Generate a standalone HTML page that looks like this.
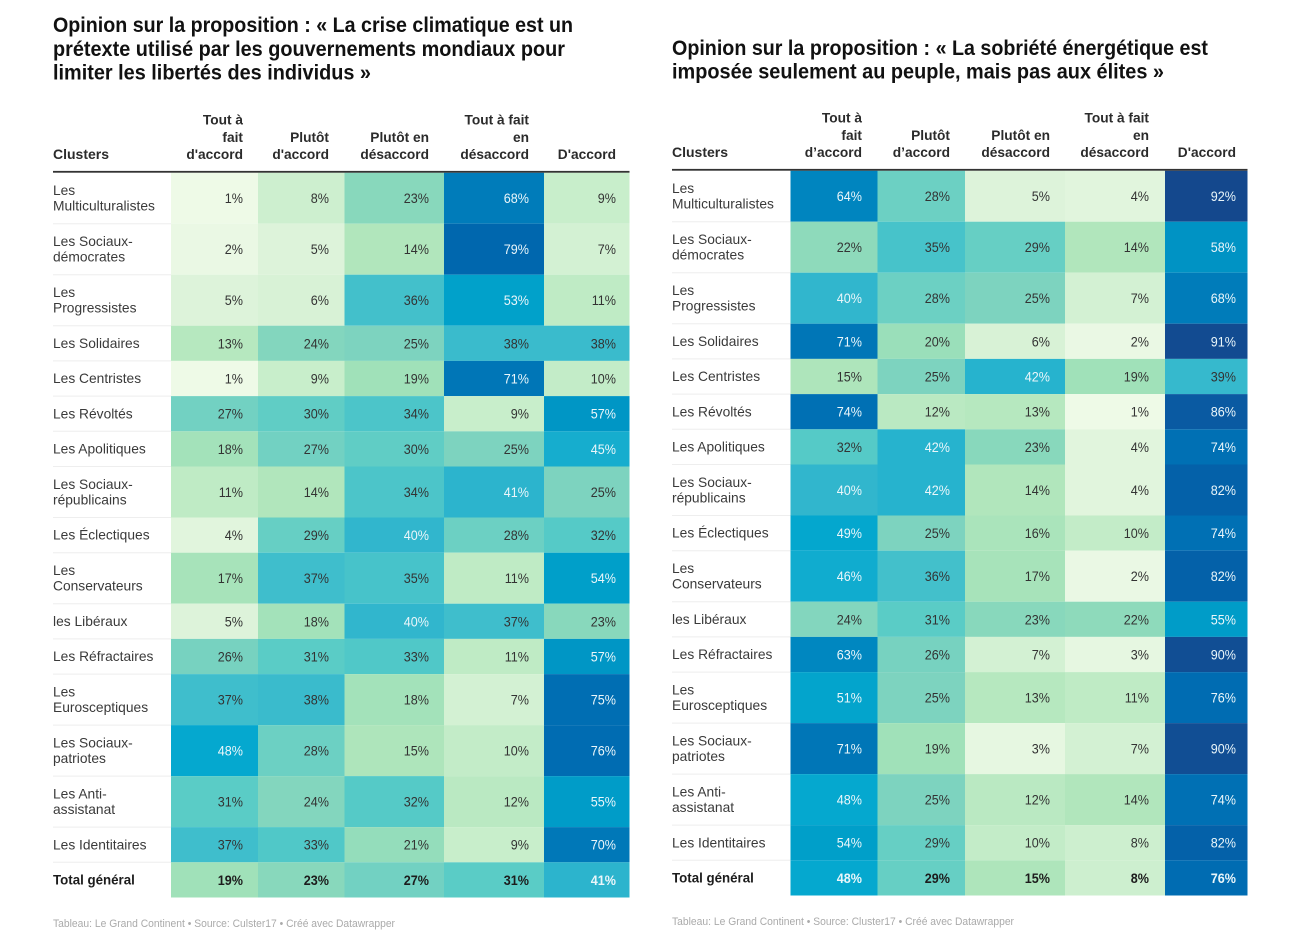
<!DOCTYPE html>
<html lang="fr">
<head>
<meta charset="utf-8">
<title>Opinion sur la proposition</title>
<style>
html,body{margin:0;padding:0;background:#fff;}
body{width:1292px;height:944px;overflow:hidden;}
svg{display:block;font-family:"Liberation Sans",sans-serif;}
</style>
</head>
<body>
<svg id="chart" width="1292" height="944" viewBox="0 0 1292 944" xmlns="http://www.w3.org/2000/svg"></svg>
<script>
// Shared categories and column headings
const categories = ["Les|Multiculturalistes","Les Sociaux-|démocrates","Les|Progressistes","Les Solidaires","Les Centristes","Les Révoltés","Les Apolitiques","Les Sociaux-|républicains","Les Éclectiques","Les|Conservateurs","les Libéraux","Les Réfractaires","Les|Eurosceptiques","Les Sociaux-|patriotes","Les Anti-|assistanat","Les Identitaires","Total général"];
const headersLeft = ["Tout à|fait|d'accord","Plutôt|d'accord","Plutôt en|désaccord","Tout à fait|en|désaccord","D'accord"];
const headersRight = ["Tout à|fait|d’accord","Plutôt|d’accord","Plutôt en|désaccord","Tout à fait|en|désaccord","D'accord"];

// Left table values (one array per column)
const climatToutAFait = [1,2,5,13,1,27,18,11,4,17,5,26,37,48,31,37,19];
const climatPlutot = [8,5,6,24,9,30,27,14,29,37,18,31,38,28,24,33,23];
const climatPlutotEn = [23,14,36,25,19,34,30,34,40,35,40,33,18,15,32,21,27];
const climatDesaccord = [68,79,53,38,71,9,25,41,28,11,37,11,7,10,12,9,31];
const climatDaccord = [9,7,11,38,10,57,45,25,32,54,23,57,75,76,55,70,41];

// Right table values (one array per column)
const sobrieteToutAFait = [64,22,40,71,15,74,32,40,49,46,24,63,51,71,48,54,48];
const sobrietePlutot = [28,35,28,20,25,12,42,42,25,36,31,26,25,19,25,29,29];
const sobrietePlutotEn = [5,29,25,6,42,13,23,14,16,17,23,7,13,3,12,10,15];
const sobrieteDesaccord = [4,14,7,2,19,1,4,4,10,2,22,3,11,7,14,8,8];
const sobrieteDaccord = [92,58,68,91,39,86,74,82,74,82,55,90,76,90,74,82,76];

const colorStops = [[1,"#eefae7"],[5,"#ddf3da"],[9,"#c8eecb"],[14,"#b1e6bc"],[19,"#a0e1b9"],[23,"#88d8bc"],[25,"#7dd3bf"],[28,"#6cd0c3"],[31,"#5accc6"],[33,"#50c8c8"],[36,"#43c0cb"],[40,"#31b6cd"],[48,"#05a8cf"],[54,"#009fc9"],[58,"#0093c4"],[64,"#0085bf"],[68,"#007cba"],[76,"#006cb2"],[79,"#0067ae"],[86,"#0a5aa2"],[92,"#14488d"]];

const NS = "http://www.w3.org/2000/svg";
const svg = document.getElementById("chart");

function hexToRgb(h){return [1,3,5].map(i=>parseInt(h.substr(i,2),16));}
function colorFor(v){
  if(v<=colorStops[0][0])return colorStops[0][1];
  for(let i=1;i<colorStops.length;i++){
    if(v<=colorStops[i][0]){
      const a=colorStops[i-1],b=colorStops[i],t=(v-a[0])/(b[0]-a[0]);
      const ca=hexToRgb(a[1]),cb=hexToRgb(b[1]);
      return "rgb("+ca.map((c,j)=>Math.round(c+(cb[j]-c)*t)).join(",")+")";
    }
  }
  return colorStops[colorStops.length-1][1];
}
function addText(parent,str,x,y,o){
  const t=document.createElementNS(NS,"text");
  t.textContent=str;
  t.setAttribute("x",x);
  t.setAttribute("y",y);
  t.setAttribute("font-size",o.size);
  t.setAttribute("fill",o.fill);
  if(o.bold)t.setAttribute("font-weight","bold");
  if(o.end)t.setAttribute("text-anchor","end");
  parent.appendChild(t);
  const len=o.width||t.getComputedTextLength()*(o.k||1);
  t.setAttribute("textLength",len.toFixed(1));
  t.setAttribute("lengthAdjust","spacingAndGlyphs");
  return t;
}
function rowHeight(label){return label.indexOf("|")>=0?51:35.2;}

function drawTable(cfg){
  const g=document.createElementNS(NS,"g");
  
  
  svg.appendChild(g);

  cfg.title.forEach(function(line){
    const t=addText(g,line.text,cfg.x,line.y,{size:21.5,fill:"#111",bold:true,width:line.w});
    
    
  });

  const hb=cfg.top-13.5;
  const c=addText(g,"Clusters",cfg.x,hb,{size:14,fill:"#2b2b2b",bold:true});
  
  
  cfg.headers.forEach(function(h,ci){
    const lines=h.split("|");
    lines.forEach(function(l,li){
      const t=addText(g,l,cfg.right[ci],hb-(lines.length-1-li)*17.3,{size:14,fill:"#2b2b2b",bold:true,end:true,k:0.98});
      
      
    });
  });

  let y=cfg.top;
  categories.forEach(function(cat,ri){
    const h=rowHeight(cat);
    const isTotal=ri===categories.length-1;
    cfg.series.forEach(function(col,ci){
      const v=col[ri];
      const r=document.createElementNS(NS,"rect");
      r.setAttribute("x",cfg.edges[ci]);
      r.setAttribute("y",y);
      r.setAttribute("width",cfg.edges[ci+1]-cfg.edges[ci]);
      r.setAttribute("height",h);
      r.setAttribute("fill",colorFor(v));
      
      
      g.appendChild(r);
      const t=addText(g,v+"%",cfg.right[ci],y+h/2+5,{size:14,fill:v>=40?"#eaf6fa":(isTotal?"#1c1c1c":"#333"),bold:isTotal,end:true,k:0.9});
      
      
    });
    const lines=cat.split("|");
    lines.forEach(function(l,li){
      const by=lines.length===2?y+22.3+li*15.5:y+h/2+4.6;
      const t=addText(g,l,cfg.x,by,{size:14,fill:isTotal?"#1c1c1c":"#3a3a3a",bold:isTotal,k:isTotal?0.95:0.985});
      
      
    });
    if(!isTotal){
      const s=document.createElementNS(NS,"line");
      s.setAttribute("x1",cfg.x);
      s.setAttribute("x2",cfg.edges[0]);
      s.setAttribute("y1",y+h);
      s.setAttribute("y2",y+h);
      s.setAttribute("stroke","#eeeeee");
      s.setAttribute("stroke-width","1");
      
      
      g.appendChild(s);
    }
    y+=h;
  });

  const rule=document.createElementNS(NS,"rect");
  rule.setAttribute("x",cfg.x);
  rule.setAttribute("y",cfg.top-1.8);
  rule.setAttribute("width",cfg.edges[5]-cfg.x);
  rule.setAttribute("height",1.8);
  rule.setAttribute("fill","#333");
  
  
  g.appendChild(rule);

  const f=addText(g,cfg.source,cfg.x,cfg.sourceY,{size:11,fill:"#aaaaaa",width:cfg.sourceW});
  
  
}

drawTable({
  name:"table-crise-climatique",
  x:53,top:172.7,
  edges:[171,258,344.5,444,544,629.5],
  right:[243,329,429,529,616],
  headers:headersLeft,
  series:[climatToutAFait,climatPlutot,climatPlutotEn,climatDesaccord,climatDaccord],
  title:[
    {text:"Opinion sur la proposition : « La crise climatique est un",y:32,w:520},
    {text:"prétexte utilisé par les gouvernements mondiaux pour",y:56,w:512},
    {text:"limiter les libertés des individus »",y:79.5,w:318}
  ],
  source:"Tableau: Le Grand Continent • Source: Culster17 • Créé avec Datawrapper",
  sourceY:927,sourceW:342
});
drawTable({
  name:"table-sobriete-energetique",
  x:672,top:170.7,
  edges:[790.5,877.5,965,1065,1165,1247.5],
  right:[862,950,1050,1149,1236],
  headers:headersRight,
  series:[sobrieteToutAFait,sobrietePlutot,sobrietePlutotEn,sobrieteDesaccord,sobrieteDaccord],
  title:[
    {text:"Opinion sur la proposition : « La sobriété énergétique est",y:55,w:536},
    {text:"imposée seulement au peuple, mais pas aux élites »",y:78.5,w:492}
  ],
  source:"Tableau: Le Grand Continent • Source: Cluster17 • Créé avec Datawrapper",
  sourceY:925,sourceW:342
});
</script>
</body>
</html>
